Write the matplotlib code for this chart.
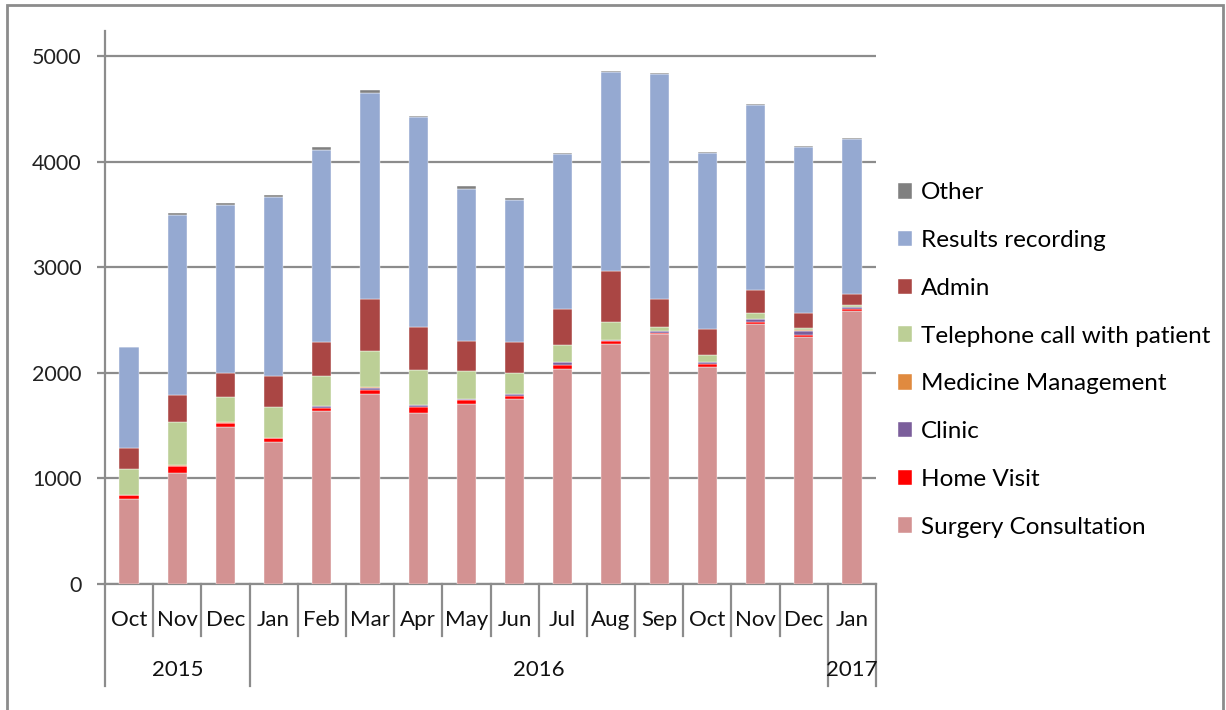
import numpy as np
import matplotlib.pyplot as plt
from matplotlib.patches import Rectangle
import matplotlib.transforms as mtransforms

months = ['Oct', 'Nov', 'Dec', 'Jan', 'Feb', 'Mar', 'Apr', 'May', 'Jun',
          'Jul', 'Aug', 'Sep', 'Oct', 'Nov', 'Dec', 'Jan']
years = ['2015', '2016', '2017']
year_spans = [(0, 3), (3, 15), (15, 16)]  # first month, end month (exclusive)

surgery = [802, 1054, 1490, 1342, 1641, 1799, 1622, 1705, 1752, 2036, 2273, 2370, 2058, 2468, 2339, 2588]
home_visit = [41, 63, 35, 38, 29, 38, 57, 34, 28, 38, 28, 6, 22, 19, 16, 16]
clinic = [3, 4, 4, 4, 12, 22, 16, 13, 19, 25, 10, 20, 19, 22, 47, 22]
medicine = [2, 2, 2, 2, 2, 3, 3, 3, 3, 3, 3, 3, 3, 3, 5, 3]
telephone = [244, 414, 243, 293, 286, 344, 329, 259, 193, 166, 170, 38, 70, 54, 20, 19]
admin = [193, 253, 221, 291, 325, 496, 410, 287, 297, 340, 483, 262, 240, 218, 139, 98]
results = [956, 1707, 1594, 1698, 1815, 1954, 1989, 1446, 1344, 1465, 1884, 2131, 1669, 1758, 1579, 1468]
other = [7, 19, 22, 16, 31, 22, 12, 22, 26, 9, 10, 9, 10, 10, 9, 9]

series = [
    ('Surgery Consultation', surgery, '#D39292'),
    ('Home Visit', home_visit, '#FF0000'),
    ('Clinic', clinic, '#7B5E9B'),
    ('Medicine Management', medicine, '#E08A3F'),
    ('Telephone call with patient', telephone, '#BCCF96'),
    ('Admin', admin, '#AA4644'),
    ('Results recording', results, '#95A9D1'),
    ('Other', other, '#808080'),
]

grid_col = '#8C8C8C'
font = ['Lato', 'DejaVu Sans']

fig = plt.figure(figsize=(12.26, 7.10), dpi=100)
ax = fig.add_axes([105 / 1226, (710 - 584) / 710, (876 - 105) / 1226, (584 - 31) / 710])

x = np.arange(len(months))
bottom = np.zeros(len(months))
handles = []
for name, vals, col in series:
    b = ax.bar(x, vals, width=0.4, bottom=bottom, color=col, label=name,
               edgecolor='white', linewidth=0.3, zorder=3)
    bottom += np.array(vals)
    handles.append(b)

ax.set_xlim(-0.5, len(months) - 0.5)
ax.set_ylim(0, 5240)
ax.set_yticks([0, 1000, 2000, 3000, 4000, 5000])
ax.yaxis.grid(True, color=grid_col, linewidth=1.6)
ax.set_axisbelow(True)
for s in ['top', 'right']:
    ax.spines[s].set_visible(False)
for s in ['left', 'bottom']:
    ax.spines[s].set_color(grid_col)
    ax.spines[s].set_linewidth(1.6)
ax.tick_params(axis='y', direction='out', length=6, width=1.6, color=grid_col,
               pad=11, labelsize=15.5, labelcolor='#222222')
for lbl in ax.get_yticklabels():
    lbl.set_family(font)
ax.set_xticks([])

# month / year category axis drawn under the plot
trans = mtransforms.blended_transform_factory(ax.transData, ax.transAxes)
axis_h = 584 - 31
month_line = -(636 - 584) / axis_h
year_line = -(686 - 584) / axis_h
year_edges = {s for s, e in year_spans} | {e for s, e in year_spans}
for i in range(len(months) + 1):
    y_end = year_line if i in year_edges else month_line
    ax.plot([i - 0.5, i - 0.5], [0, y_end], color=grid_col, linewidth=1.6,
            transform=trans, clip_on=False)
for i, m in enumerate(months):
    ax.text(i, -(620 - 584) / axis_h, m, transform=trans, ha='center', va='center',
            fontsize=16, family=font, color='#111111')
for yr, (s, e) in zip(years, year_spans):
    ax.text((s + e - 1) / 2, -(670 - 584) / axis_h, yr, transform=trans,
            ha='center', va='center', fontsize=16, family=font, color='#111111')

leg = fig.legend(handles[::-1], [s[0] for s in series][::-1],
                 loc='center left', bbox_to_anchor=(876 / 1226, (710 - 360) / 710),
                 frameon=False, prop={'family': font, 'size': 17.5},
                 handlelength=0.6, handleheight=0.6, handletextpad=0.35,
                 labelspacing=1.1)

# outer chart border
fig.patches.append(Rectangle((7 / 1226, -0.05), (1223 - 7) / 1226, (710 - 5) / 710 + 0.05,
                             transform=fig.transFigure, fill=False,
                             edgecolor='#8C8C8C', linewidth=2))

fig.savefig('out.png', dpi=100)
